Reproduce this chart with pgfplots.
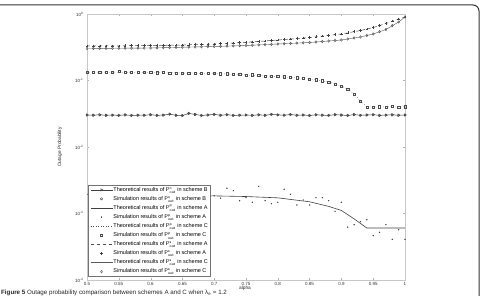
\documentclass[border=0pt]{standalone}
\usepackage{pgfplots}
\pgfplotsset{compat=1.18}
\usepackage{pgfplotstable}
\usepackage{fontspec}
\setmainfont{Liberation Sans}

% simulated points, alpha step 0.01
% Bsim: P_out^o scheme B, Cp: P_out^p scheme C, As: P_out^s scheme A, Cs: P_out^s scheme C
\pgfplotstableread{
a    Bsim   Cp     As     Cs
0.50 0.0303 0.1342 0.3303 0.3029
0.51 0.0301 0.1330 0.3307 0.3034
0.52 0.0305 0.1338 0.3312 0.3040
0.53 0.0300 0.1325 0.3316 0.3045
0.54 0.0302 0.1335 0.3320 0.3050
0.55 0.0299 0.1365 0.3325 0.3056
0.56 0.0304 0.1318 0.3332 0.3061
0.57 0.0298 0.1330 0.3339 0.3066
0.58 0.0301 0.1322 0.3346 0.3071
0.59 0.0300 0.1328 0.3353 0.3077
0.60 0.0306 0.1319 0.3360 0.3082
0.61 0.0299 0.1310 0.3372 0.3098
0.62 0.0302 0.1318 0.3383 0.3115
0.63 0.0312 0.1300 0.3395 0.3131
0.64 0.0300 0.1305 0.3407 0.3148
0.65 0.0297 0.1290 0.3419 0.3164
0.66 0.0320 0.1296 0.3443 0.3180
0.67 0.0309 0.1285 0.3467 0.3197
0.68 0.0298 0.1292 0.3491 0.3213
0.69 0.0303 0.1270 0.3515 0.3230
0.70 0.0310 0.1274 0.3539 0.3246
0.71 0.0300 0.1262 0.3582 0.3269
0.72 0.0306 0.1268 0.3625 0.3292
0.73 0.0299 0.1250 0.3668 0.3314
0.74 0.0301 0.1235 0.3711 0.3337
0.75 0.0303 0.1209 0.3754 0.3360
0.76 0.0299 0.1220 0.3816 0.3396
0.77 0.0305 0.1190 0.3878 0.3432
0.78 0.0300 0.1175 0.3940 0.3467
0.79 0.0309 0.1165 0.4002 0.3503
0.80 0.0304 0.1148 0.4064 0.3539
0.81 0.0301 0.1140 0.4137 0.3577
0.82 0.0308 0.1120 0.4211 0.3615
0.83 0.0300 0.1100 0.4284 0.3652
0.84 0.0303 0.1085 0.4358 0.3690
0.85 0.0298 0.1053 0.4431 0.3728
0.86 0.0305 0.1030 0.4545 0.3795
0.87 0.0301 0.0990 0.4660 0.3862
0.88 0.0299 0.0949 0.4774 0.3930
0.89 0.0306 0.0890 0.4889 0.3997
0.90 0.0302 0.0827 0.5003 0.4064
0.91 0.0298 0.0745 0.5218 0.4212
0.92 0.0307 0.0627 0.5432 0.4361
0.93 0.0300 0.0492 0.5647 0.4509
0.94 0.0303 0.0402 0.5957 0.4756
0.95 0.0306 0.0396 0.6266 0.5003
0.96 0.0299 0.0404 0.6733 0.5424
0.97 0.0302 0.0395 0.7199 0.5845
0.98 0.0305 0.0410 0.7805 0.6713
0.99 0.0300 0.0398 0.8411 0.7580
1.00 0.0303 0.0403 0.9013 0.9013
}\simtable

% simulated P_out^p in scheme A
\pgfplotstableread{
a    Ap
0.70 0.00185
0.71 0.00170
0.72 0.00240
0.73 0.00220
0.74 0.001558
0.75 0.001728
0.76 0.001474
0.77 0.002565
0.78 0.001558
0.79 0.001404
0.80 0.001474
0.81 0.002312
0.82 0.001943
0.83 0.001342
0.84 0.001596
0.85 0.001342
0.86 0.001728
0.87 0.001728
0.88 0.001558
0.89 0.001079
0.90 0.001474
0.91 0.000626
0.92 0.000679
0.93 0.000753
0.94 0.000807
0.95 0.000464
0.96 0.000521
0.97 0.000679
0.98 0.000409
0.99 0.000570
1.00 0.000409
}\simA

% theoretical curves
\pgfplotstableread{
a    Ap
0.50 0.00195
0.55 0.00193
0.60 0.00190
0.65 0.00187
0.70 0.00184
0.75 0.00180
0.80 0.00172
0.85 0.00150
0.88 0.00128
0.90 0.00111
0.92 0.00083
0.94 0.000605
1.00 0.000605
}\thA

\pgfplotstableread{
a    Cp
0.50 0.1342
0.60 0.1319
0.70 0.1274
0.75 0.1215
0.80 0.1148
0.85 0.1053
0.88 0.0949
0.90 0.0827
0.91 0.0745
0.92 0.0627
0.93 0.0492
0.94 0.0400
1.00 0.0400
}\thCp

\pgfplotstableread{
a    As     Cs
0.50 0.3303 0.3029
0.55 0.3325 0.3056
0.60 0.3360 0.3082
0.65 0.3419 0.3164
0.70 0.3539 0.3246
0.75 0.3754 0.3360
0.80 0.4064 0.3539
0.85 0.4431 0.3728
0.90 0.5003 0.4064
0.93 0.5647 0.4509
0.95 0.6266 0.5003
0.97 0.7199 0.5845
0.99 0.8411 0.7580
1.00 0.9013 0.9013
}\thS

\newcommand{\Pout}[1]{$\mathsf{P}^{\mathsf{#1}}_{\mathsf{out}}$}

\begin{document}
\begin{tikzpicture}[x=1pt,y=1pt]
\path[use as bounding box] (0,0) rectangle (487,296);

% figure frame
\draw[line width=1pt,black!80] (0,291) -- (473,291) arc[start angle=90,end angle=0,radius=6] -- (479,-2);

\begin{axis}[
  at={(87pt,16pt)}, anchor=south west,
  scale only axis, width=318pt, height=266pt,
  ymode=log, xmin=0.5, xmax=1, ymin=1e-4, ymax=1,
  xtick={0.5,0.55,0.6,0.65,0.7,0.75,0.8,0.85,0.9,0.95,1},
  xticklabels={0.5,0.55,0.6,0.65,0.7,0.75,0.8,0.85,0.9,0.95,1},
  ytick={1e-4,1e-3,1e-2,1e-1,1},
  yticklabels={10\textsuperscript{-4},10\textsuperscript{-3},10\textsuperscript{-2},10\textsuperscript{-1},10\textsuperscript{0}},
  yminorticks=false,
  tick align=inside, major tick length=2pt,
  axis line style={black!22}, tick style={black!30},
  tick label style={font=\fontsize{4.5}{5}\selectfont, text=black!80},
  xticklabel style={yshift=1pt},
  xlabel={alpha}, ylabel={Outage Probability},
  every axis x label/.style={at={(axis description cs:0.497,-0.031)}, anchor=center,
    font=\fontsize{4.8}{5.5}\selectfont, text=black!85},
  every axis y label/.style={at={(axis description cs:-0.085,0.5)}, rotate=90, anchor=center,
    font=\fontsize{4.8}{5.5}\selectfont, text=black!85},
  legend style={at={(axis cs:0.5015,1.12e-4)}, anchor=south west,
    font=\fontsize{5.5}{6}\selectfont, draw=black!55, line width=0.5pt,
    fill=white, inner xsep=2pt, inner ysep=1.5pt, row sep=2.3pt,
    nodes={inner sep=0.6pt}},
  legend cell align=left,
  every axis plot post/.append style={
    legend image code/.code={\draw[mark repeat=2,mark phase=2,##1] plot coordinates {(0pt,0pt) (11pt,0pt) (22pt,0pt)};}},
  mark options={solid},
]
% scheme B, P_out^o
\addplot[black!75, line width=0.5pt, mark=triangle, mark size=1.3pt, mark options={rotate=-90,solid}] table[x=a,y=Bsim] {\simtable};
\addlegendentry{Theoretical results of \Pout{o} in scheme B}
\addplot[black!70, only marks, mark=o, mark size=1.2pt, line width=0.4pt] table[x=a,y=Bsim] {\simtable};
\addlegendentry{Simulation results of \Pout{o} in scheme B}
% scheme A, P_out^p
\addplot[black!75, line width=0.6pt] table[x=a,y=Ap] {\thA};
\addlegendentry{Theoretical results of \Pout{p} in scheme A}
\addplot[black!75, only marks, mark=*, mark size=0.45pt] table[x=a,y=Ap] {\simA};
\addlegendentry{Simulation results of \Pout{p} in scheme A}
% scheme C, P_out^p
\addplot[black!70, line width=0.5pt, dotted] table[x=a,y=Cp] {\thCp};
\addlegendentry{Theoretical results of \Pout{p} in scheme C}
\addplot[black!70, only marks, mark=square, mark size=1.1pt, line width=0.4pt] table[x=a,y=Cp] {\simtable};
\addlegendentry{Simulation results of \Pout{p} in scheme C}
% scheme A, P_out^s
\addplot[black!70, line width=0.5pt, dashed] table[x=a,y=As] {\thS};
\addlegendentry{Theoretical results of \Pout{s} in scheme A}
\addplot[black!75, only marks, mark=+, mark size=1.3pt, line width=0.4pt] table[x=a,y=As] {\simtable};
\addlegendentry{Simulation results of \Pout{s} in scheme A}
% scheme C, P_out^s
\addplot[black!65, line width=0.4pt] table[x=a,y=Cs] {\thS};
\addlegendentry{Theoretical results of \Pout{s} in scheme C}
\addplot[black!70, only marks, mark=diamond, mark size=1.3pt, line width=0.4pt] table[x=a,y=Cs] {\simtable};
\addlegendentry{Simulation results of \Pout{s} in scheme C}
\end{axis}

\node[anchor=base west, inner sep=0pt, font=\fontsize{6.2}{7}\selectfont, text=black!85] at (1,1.5)
  {\textbf{Figure 5} Outage probability comparison between schemes A and C when λ\textsubscript{e} = 1.2};
\end{tikzpicture}
\end{document}
